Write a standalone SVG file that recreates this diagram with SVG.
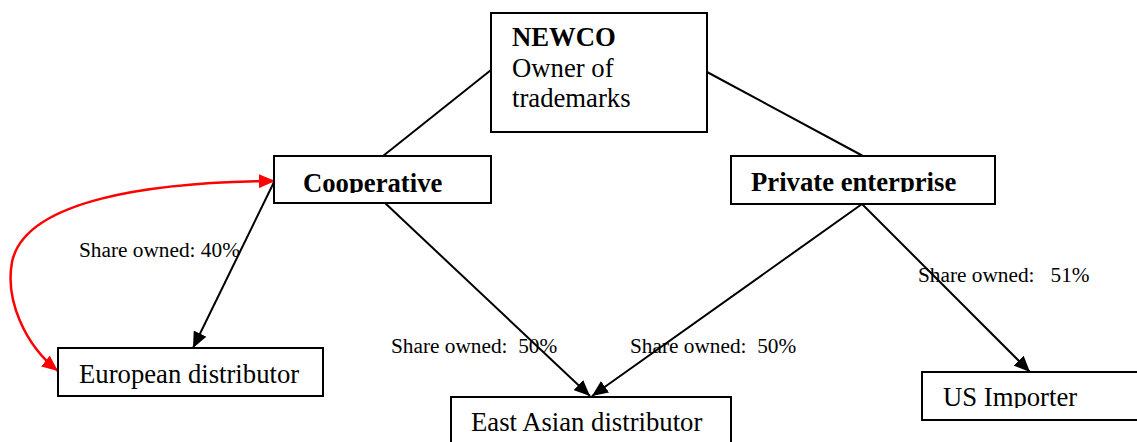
<svg xmlns="http://www.w3.org/2000/svg" width="1137" height="442" viewBox="0 0 1137 442">
<style>
.box{fill:#fff;stroke:#000;stroke-width:2}
.t{font-family:"Liberation Serif","Times New Roman",serif;font-size:26.7px;fill:#000}
.b{font-weight:bold}
.lbl{font-family:"Liberation Serif","Times New Roman",serif;font-size:21.3px;fill:#000;white-space:pre}
.ln{stroke:#000;stroke-width:2;fill:none}
.red{stroke:#f00;stroke-width:2.5;fill:none}
</style>
<defs>
<marker id="ah" markerUnits="userSpaceOnUse" markerWidth="18" markerHeight="14" refX="16" refY="7" orient="auto"><path d="M0,0 L16,7 L0,14 Z" fill="#000"/></marker>
<marker id="rh" markerUnits="userSpaceOnUse" markerWidth="18" markerHeight="14" refX="16" refY="7" orient="auto"><path d="M0,0 L16,7 L0,14 Z" fill="#f00"/></marker>
<marker id="rs" markerUnits="userSpaceOnUse" markerWidth="18" markerHeight="14" refX="16" refY="7" orient="auto-start-reverse"><path d="M0,0 L16,7 L0,14 Z" fill="#f00"/></marker>
<clipPath id="c1"><rect x="274" y="156" width="217" height="37"/></clipPath>
<clipPath id="c2"><rect x="731" y="156" width="264" height="36"/></clipPath>
<clipPath id="c3"><rect x="922" y="372" width="215" height="36"/></clipPath>
</defs>
<g id="connectors">
<line class="ln" x1="383" y1="156" x2="491" y2="70"/>
<line class="ln" x1="707" y1="72" x2="863" y2="156"/>
<line class="ln" x1="275" y1="180" x2="193" y2="348" marker-end="url(#ah)"/>
<line class="ln" x1="385" y1="203" x2="590" y2="396" marker-end="url(#ah)"/>
<line class="ln" x1="862" y1="204" x2="592" y2="396" marker-end="url(#ah)"/>
<line class="ln" x1="862" y1="204" x2="1030" y2="372" marker-end="url(#ah)"/>
<path class="red" d="M58,371 C25,345 5,300 12,262 C25,200 150,182 275,181" marker-start="url(#rs)" marker-end="url(#rh)"/>
</g>
<g id="newco">
<rect class="box" x="491" y="13" width="216" height="119"/>
<text class="t b" x="512" y="46">NEWCO</text>
<text class="t" x="512" y="77">Owner of</text>
<text class="t" x="512" y="107">trademarks</text>
</g>
<g id="cooperative">
<rect class="box" x="274" y="156" width="217" height="47"/>
<text class="t b" x="303" y="192" clip-path="url(#c1)">Cooperative</text>
</g>
<g id="private">
<rect class="box" x="731" y="156" width="264" height="48"/>
<text class="t b" x="751" y="191" clip-path="url(#c2)">Private enterprise</text>
</g>
<g id="european">
<rect class="box" x="58" y="348" width="265" height="48"/>
<text class="t" x="79" y="383">European distributor</text>
</g>
<g id="eastasian">
<rect class="box" x="451" y="397" width="280" height="50"/>
<text class="t" x="471" y="431">East Asian distributor</text>
</g>
<g id="usimporter">
<rect class="box" x="922" y="372" width="220" height="48"/>
<text class="t" x="943" y="406" clip-path="url(#c3)">US Importer</text>
</g>
<g id="labels">
<text class="lbl" x="79" y="257">Share owned: 40%</text>
<text class="lbl" x="391" y="353">Share owned:  50%</text>
<text class="lbl" x="630" y="353">Share owned:  50%</text>
<text class="lbl" x="918" y="282">Share owned:   51%</text>
</g>
</svg>
